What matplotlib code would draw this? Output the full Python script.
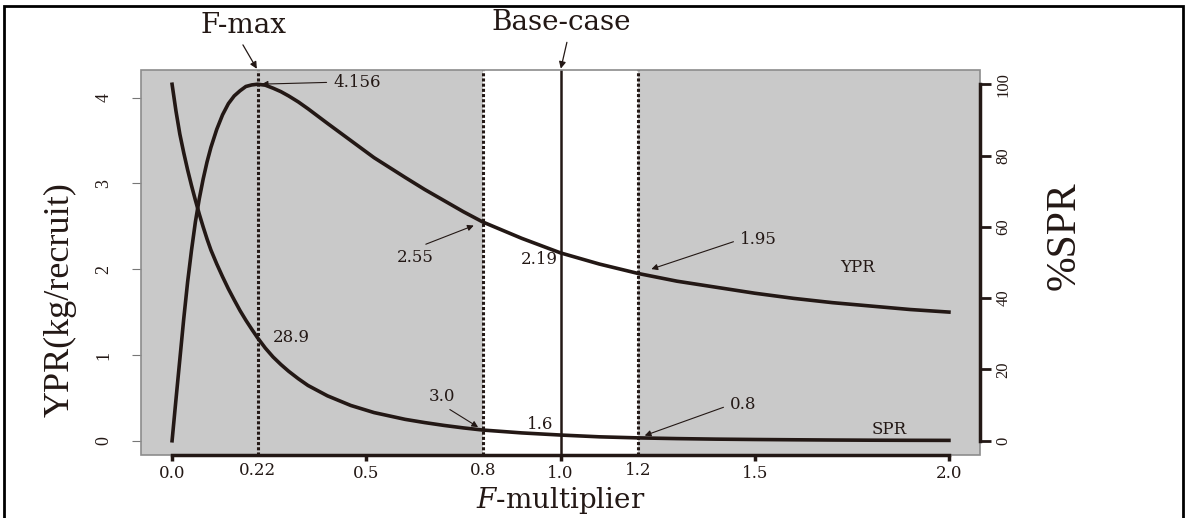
import matplotlib
matplotlib.use('Agg')
import matplotlib.pyplot as plt
from matplotlib.patches import Rectangle

plt.rcParams['font.family'] = ['DejaVu Serif']
plt.rcParams['mathtext.fontset'] = 'dejavuserif'

INK = '#231815'
SHADE = '#c9c9c9'

# F-multiplier grid and the two curves
f_mult = [0.0, 0.01, 0.02, 0.03, 0.04, 0.05, 0.06, 0.07, 0.08, 0.09, 0.10,
          0.115, 0.13, 0.145, 0.16, 0.175, 0.19, 0.205, 0.22, 0.24, 0.26,
          0.28, 0.30, 0.325, 0.35, 0.40, 0.46, 0.52, 0.60, 0.65, 0.70, 0.75,
          0.80, 0.90, 1.00, 1.10, 1.20, 1.30, 1.40, 1.50, 1.60, 1.70, 1.80,
          1.90, 2.00]
ypr = [0.0, 0.48, 0.95, 1.42, 1.85, 2.22, 2.55, 2.82, 3.05, 3.25, 3.42,
       3.63, 3.80, 3.93, 4.02, 4.08, 4.13, 4.148, 4.156, 4.145, 4.11,
       4.07, 4.02, 3.95, 3.87, 3.70, 3.50, 3.30, 3.07, 2.93, 2.80, 2.67,
       2.55, 2.36, 2.19, 2.06, 1.95, 1.86, 1.79, 1.72, 1.66, 1.61, 1.57,
       1.53, 1.50]
spr = [100.0, 92.5, 86.0, 80.8, 76.0, 71.6, 67.5, 63.6, 60.0, 56.6, 53.5,
       49.6, 46.0, 42.6, 39.5, 36.5, 33.8, 31.3, 28.9, 26.0, 23.5,
       21.4, 19.5, 17.4, 15.5, 12.6, 9.9, 7.9, 6.0, 5.1, 4.3, 3.6,
       3.0, 2.2, 1.6, 1.1, 0.8, 0.6, 0.45, 0.35, 0.27, 0.2, 0.15,
       0.12, 0.1]

x_ticks = [0.0, 0.5, 1.0, 1.5, 2.0]
x_tick_labels = ['0.0', '0.5', '1.0', '1.5', '2.0']
ref_points = [0.22, 0.8, 1.2]
ref_labels = ['0.22', '0.8', '1.2']
ypr_ticks = [0, 1, 2, 3, 4]
spr_ticks = [0, 20, 40, 60, 80, 100]

f_max = 0.22
f_base = 1.0
band = (0.8, 1.2)

ypr_at = [4.156, 2.55, 2.19, 1.95]     # at 0.22, 0.8, 1.0, 1.2
ypr_txt = ['4.156', '2.55', '2.19', '1.95']
spr_at = [28.9, 3.0, 1.6, 0.8]
spr_txt = ['28.9', '3.0', '1.6', '0.8']


fig = plt.figure(figsize=(11.85, 5.18), dpi=100)
ax = fig.add_axes([141 / 1185, 63 / 518, 839 / 1185, 385 / 518])
ax.set_xlim(-0.08, 2.08)
ax.set_ylim(-0.166, 4.322)
ax.set_facecolor(SHADE)
ax.axvspan(band[0], band[1], color='white', lw=0, zorder=0)

for s in ax.spines.values():
    s.set_visible(False)
ax.add_patch(Rectangle((0, 0), 1, 1, transform=ax.transAxes, fill=False,
                       ec='#8c8c8c', lw=1.2, clip_on=False, zorder=5))
ax.spines['bottom'].set_visible(True)
ax.spines['bottom'].set_bounds(0, 2)
ax.spines['bottom'].set_color(INK)
ax.spines['bottom'].set_linewidth(2.5)
ax.spines['bottom'].set_zorder(6)

ax.set_xticks(x_ticks, labels=x_tick_labels)
ax.set_xticks(ref_points, labels=ref_labels, minor=True)
ax.tick_params(axis='x', which='major', length=4, width=2.5, color=INK,
               pad=3, labelsize=12, labelcolor=INK)
ax.tick_params(axis='x', which='minor', length=0, pad=5, labelsize=12,
               labelcolor=INK)
ax.set_yticks(ypr_ticks)
ax.tick_params(axis='y', length=6.5, width=0.8, color='#777777', pad=14,
               labelsize=13, labelrotation=90, labelcolor=INK,
               labelfontfamily='Liberation Serif')
for lab in ax.get_yticklabels():
    lab.set_va('center')

# reference lines
for fx in (f_max, band[0], band[1]):
    ax.axvline(fx, ls=(0, (1, 0.7)), lw=2.2, color=INK, zorder=2)
ax.axvline(f_base, lw=1.8, color=INK, zorder=2)

ax.plot(f_mult, ypr, lw=2.6, color=INK, zorder=3)

ax2 = ax.twinx()
ax2.set_ylim(-4, 104)
for s in ax2.spines.values():
    s.set_visible(False)
ax2.spines['right'].set_visible(True)
ax2.spines['right'].set_bounds(0, 100)
ax2.spines['right'].set_color(INK)
ax2.spines['right'].set_linewidth(2.5)
ax2.set_yticks(spr_ticks)
ax2.tick_params(axis='y', length=8, width=2, color=INK, pad=3, labelsize=12,
                labelrotation=90, labelcolor=INK,
                labelfontfamily='Liberation Serif')
for lab in ax2.get_yticklabels():
    lab.set_va('center')
ax2.plot(f_mult, spr, lw=2.6, color=INK, zorder=3)


def note(axis, x, y, label, dx, dy, ha, relpos=None, shrink=3):
    kw = {}
    if relpos is not None:
        kw['arrowprops'] = dict(arrowstyle='-|>', color=INK, lw=0.8,
                                mutation_scale=9, shrinkA=3, shrinkB=shrink,
                                relpos=relpos)
    axis.annotate(label, xy=(x, y), xytext=(dx, dy), textcoords='offset pixels',
                  ha=ha, va='center', fontsize=12, color=INK, **kw)


note(ax, 0.22, ypr_at[0], ypr_txt[0], 76, 2, 'left', (0, 0.5), 3)
note(ax, 0.8, ypr_at[1], ypr_txt[1], -68, -35, 'center', (0.5, 1), 7)
note(ax, 1.0, ypr_at[2], ypr_txt[2], -3, -7, 'right')
note(ax, 1.2, ypr_at[3], ypr_txt[3], 102, 34, 'left', (0, 0.5), 10)
note(ax2, 0.22, spr_at[0], spr_txt[0], 15, 0, 'left')
note(ax2, 0.8, spr_at[1], spr_txt[1], -41, 34, 'center', (0.5, 0), 4)
note(ax2, 1.0, spr_at[2], spr_txt[2], -7, 11, 'right')
note(ax2, 1.2, spr_at[3], spr_txt[3], 92, 33, 'left', (0, 0.5), 5)

ax.text(1.765, 2.02, 'YPR', ha='center', va='center', fontsize=12, color=INK)
ax2.text(1.845, 3.1, 'SPR', ha='center', va='center', fontsize=12, color=INK)

# headings with arrows to the reference lines
head = dict(arrowstyle='-|>', color=INK, lw=0.9, mutation_scale=10,
            shrinkA=3, shrinkB=1)
ax.annotate('F-max', xy=(f_max, 1), xycoords=('data', 'axes fraction'),
            xytext=(-14, 45), textcoords='offset pixels', ha='center',
            va='center', fontsize=20, color=INK,
            arrowprops=dict(head, relpos=(0.45, 0)))
ax.annotate('Base-case', xy=(f_base, 1), xycoords=('data', 'axes fraction'),
            xytext=(1, 48), textcoords='offset pixels', ha='center',
            va='center', fontsize=20, color=INK,
            arrowprops=dict(head, relpos=(0.55, 0)))

ax.set_xlabel('$F$-multiplier', fontsize=20, color=INK, labelpad=2)
ax.set_ylabel('YPR(kg/recruit)', fontfamily='Liberation Serif', fontsize=26,
              color=INK)
ax.yaxis.set_label_coords(-0.077, 0.405)
ax2.set_ylabel('%SPR', fontfamily='Liberation Serif', fontsize=30, color=INK)
ax2.yaxis.set_label_coords(1.0775, 0.57)

fig.add_artist(Rectangle((4 / 1185, -0.1), 1179 / 1185, 1.1 - 6 / 518,
                         transform=fig.transFigure, fill=False, ec='black',
                         lw=2))

fig.savefig('out.png', dpi=100)
